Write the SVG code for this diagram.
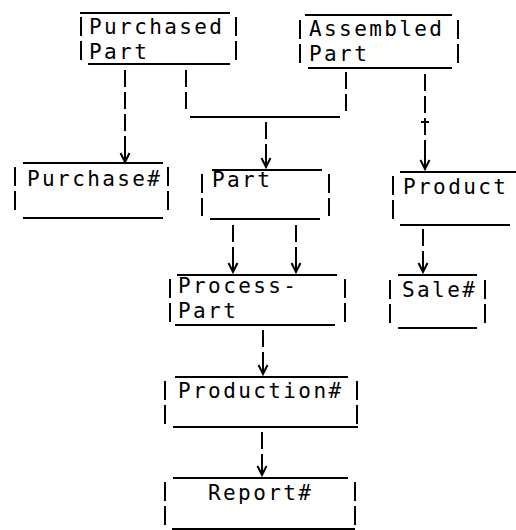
<svg xmlns="http://www.w3.org/2000/svg" width="516" height="530" viewBox="0 0 516 530">
<defs>
<style>
.bg{fill:#fff}
.h{stroke:#000;stroke-width:2;fill:none}
.s{stroke:#000;stroke-width:2;fill:none;stroke-dasharray:19 5}
.c{stroke:#000;stroke-width:2;fill:none;stroke-dasharray:17 5}
.a{stroke:#000;stroke-width:2;fill:none;marker-end:url(#arr)}
text{font-family:"DejaVu Sans Mono","Liberation Mono",monospace;font-size:21px;letter-spacing:2.4px;fill:#000}
</style>
<marker id="arr" markerUnits="userSpaceOnUse" viewBox="-1 -6 12 12" refX="9" refY="0" markerWidth="12" markerHeight="12" orient="auto">
<path d="M0,-4.5 L9,0 L0,4.5" fill="none" stroke="#000" stroke-width="2"/>
</marker>
</defs>
<rect class="bg" x="0" y="0" width="516" height="530"/>

<g id="connectors">
<line class="c" x1="125" y1="70" x2="125" y2="152"/>
<line class="a" x1="125" y1="150" x2="125" y2="162"/>
<line class="c" x1="186" y1="70" x2="186" y2="114"/>
<line class="h" x1="190" y1="117" x2="340" y2="117"/>
<line class="c" x1="346" y1="72" x2="346" y2="115"/>
<line class="c" x1="266" y1="122" x2="266" y2="156"/>
<line class="a" x1="266" y1="154" x2="266" y2="167"/>
<line class="c" x1="425" y1="74" x2="425" y2="158"/>
<line class="h" x1="421" y1="122" x2="429" y2="122"/>
<line class="a" x1="425" y1="156" x2="425" y2="169"/>
<line class="c" x1="233" y1="225" x2="233" y2="262"/>
<line class="a" x1="233" y1="260" x2="233" y2="272"/>
<line class="c" x1="296" y1="225" x2="296" y2="262"/>
<line class="a" x1="296" y1="260" x2="296" y2="272"/>
<line class="c" x1="423" y1="229" x2="423" y2="262"/>
<line class="a" x1="423" y1="260" x2="423" y2="272"/>
<line class="c" x1="263" y1="330" x2="263" y2="364"/>
<line class="a" x1="263" y1="362" x2="263" y2="374"/>
<line class="c" x1="262" y1="432" x2="262" y2="465"/>
<line class="a" x1="262" y1="463" x2="262" y2="475"/>
</g>

<g id="purchased-part">
<line class="h" x1="80" y1="13" x2="230" y2="13"/>
<line class="h" x1="88" y1="64" x2="230" y2="64"/>
<line class="s" x1="81" y1="17" x2="81" y2="62"/>
<line class="s" x1="236" y1="17" x2="236" y2="62"/>
<text x="89" y="34">Purchased</text>
<text x="89" y="59">Part</text>
</g>

<g id="assembled-part">
<line class="h" x1="305" y1="15" x2="452" y2="15"/>
<line class="h" x1="308" y1="68" x2="452" y2="68"/>
<line class="s" x1="300" y1="20" x2="300" y2="65"/>
<line class="s" x1="458" y1="20" x2="458" y2="65"/>
<text x="309" y="36">Assembled</text>
<text x="309" y="61">Part</text>
</g>

<g id="purchase-no">
<line class="h" x1="23" y1="163" x2="163" y2="163"/>
<line class="h" x1="23" y1="218" x2="163" y2="218"/>
<line class="s" x1="15" y1="167" x2="15" y2="215"/>
<line class="s" x1="168" y1="167" x2="168" y2="215"/>
<text x="27" y="186">Purchase#</text>
</g>

<g id="part">
<line class="h" x1="212" y1="170" x2="322" y2="170"/>
<line class="h" x1="210" y1="219" x2="320" y2="219"/>
<line class="s" x1="202" y1="174" x2="202" y2="216"/>
<line class="s" x1="329" y1="174" x2="329" y2="216"/>
<text x="212" y="187">Part</text>
</g>

<g id="product">
<line class="h" x1="400" y1="172" x2="516" y2="172"/>
<line class="h" x1="400" y1="225" x2="510" y2="225"/>
<line class="s" x1="393" y1="176" x2="393" y2="222"/>
<text x="403" y="194">Product</text>
</g>

<g id="process-part">
<line class="h" x1="177" y1="275" x2="337" y2="275"/>
<line class="h" x1="175" y1="325" x2="335" y2="325"/>
<line class="s" x1="170" y1="279" x2="170" y2="322"/>
<line class="s" x1="345" y1="279" x2="345" y2="322"/>
<text x="178" y="293">Process-</text>
<text x="178" y="318">Part</text>
</g>

<g id="sale-no">
<line class="h" x1="398" y1="275" x2="477" y2="275"/>
<line class="h" x1="398" y1="328" x2="477" y2="328"/>
<line class="s" x1="390" y1="280" x2="390" y2="325"/>
<line class="s" x1="485" y1="280" x2="485" y2="325"/>
<text x="402" y="297">Sale#</text>
</g>

<g id="production-no">
<line class="h" x1="175" y1="377" x2="348" y2="377"/>
<line class="h" x1="173" y1="427" x2="358" y2="427"/>
<line class="s" x1="165" y1="381" x2="165" y2="424"/>
<line class="s" x1="357" y1="381" x2="357" y2="424"/>
<text x="178" y="398">Production#</text>
</g>

<g id="report-no">
<line class="h" x1="173" y1="478" x2="348" y2="478"/>
<line class="h" x1="172" y1="529" x2="355" y2="529"/>
<line class="s" x1="165" y1="482" x2="165" y2="527"/>
<line class="s" x1="355" y1="482" x2="355" y2="527"/>
<text x="208" y="500">Report#</text>
</g>
</svg>
